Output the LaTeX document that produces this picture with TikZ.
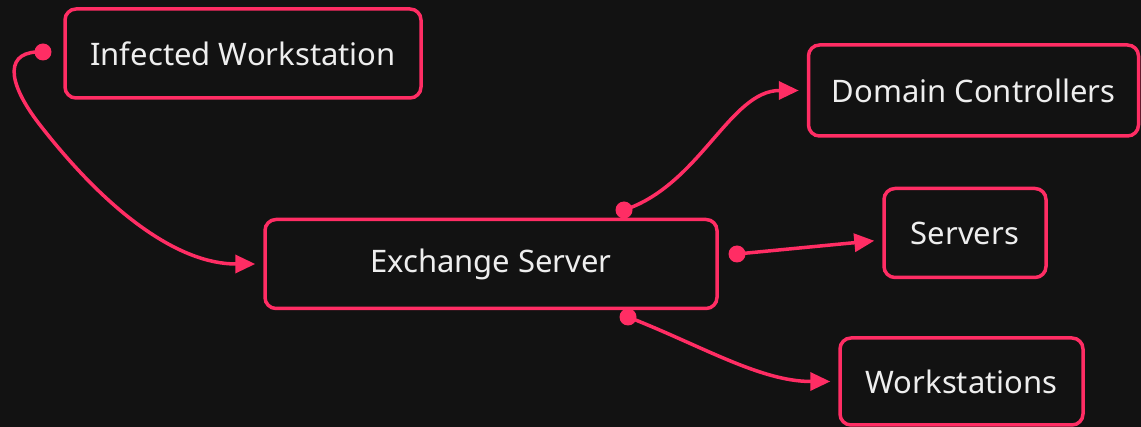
\documentclass[tikz,border=0pt]{standalone}
\usepackage{fontspec}
\setmainfont{Noto Sans}
\usetikzlibrary{arrows.meta}
\definecolor{netPink}{RGB}{255,45,100}
\definecolor{netBg}{RGB}{18,18,18}
\definecolor{netText}{RGB}{238,238,238}

\begin{document}
\begin{tikzpicture}[x=1pt,y=-1pt,
  host/.style={draw=netPink,line width=3.5pt,rounded corners=11pt,fill=netBg,
    text=netText,minimum height=89pt,inner sep=0pt,
    font=\fontsize{31}{36}\selectfont},
  link/.style={netPink,line width=3.5pt,-{Triangle[length=20pt,width=18pt]},
    shorten >=8pt}]
  \fill[netBg] (0,0) rectangle (1141,427);
  \useasboundingbox (0,0) rectangle (1141,427);
  \node[host,minimum width=356pt] (iw) at (243,53.5) {Infected Workstation};
  \node[host,minimum width=452pt] (ex) at (491,264) {Exchange Server};
  \node[host,minimum width=330pt,minimum height=91pt] (dc) at (973.5,90.5) {Domain Controllers};
  \node[host,minimum width=162pt] (sv) at (965,233) {Servers};
  \node[host,minimum width=243pt,minimum height=87pt] (ws) at (961.5,381.5) {Workstations};
  \coordinate (iwdot) at (43,52);
  \coordinate (extop) at (624,210);
  \coordinate (exright) at (737,254);
  \coordinate (exbot) at (628,317);
  \draw[link] (iwdot) .. controls (5,50) and (5,80) .. (40,125)
    .. controls (110,215) and (180,264) .. (ex.west);
  \draw[link] (extop) .. controls (700,185) and (730,90.5) .. (dc.west);
  \draw[link] (exright) -- ([yshift=-7pt]sv.west);
  \draw[link] (exbot) .. controls (700,345) and (760,381.5) .. (ws.west);
  \foreach \d in {iwdot,extop,exright,exbot}
    \fill[netPink] (\d) circle (8.5pt);
\end{tikzpicture}
\end{document}
